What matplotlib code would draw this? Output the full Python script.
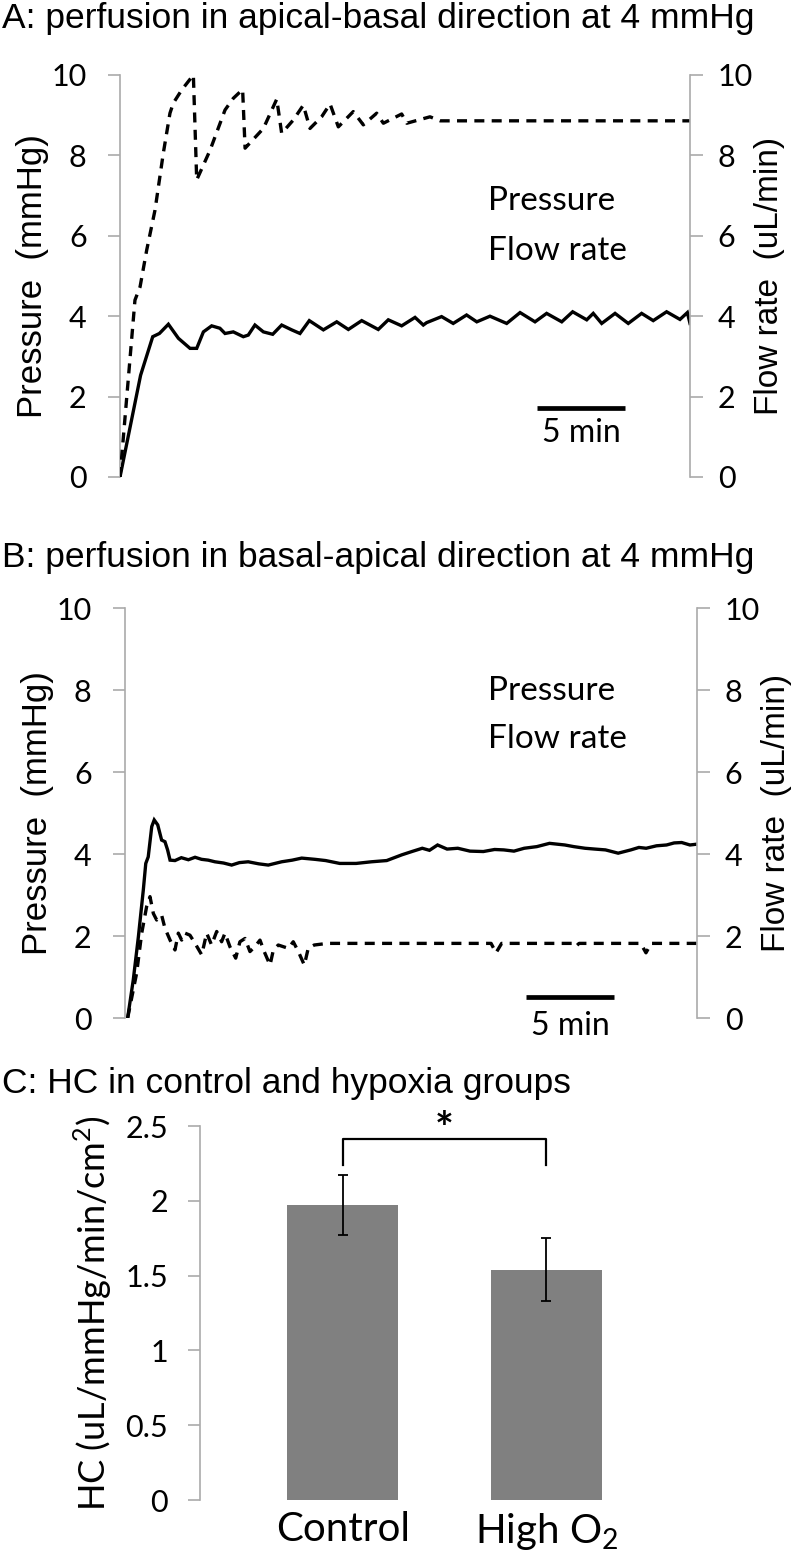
import numpy as np
import matplotlib.pyplot as plt

plt.rcParams['font.family'] = ['Lato', 'DejaVu Sans']
plt.rcParams['mathtext.fontset'] = 'custom'
plt.rcParams['mathtext.rm'] = 'Lato'

# ---- panel A: apical-basal (time in min) ----
a_p_t = [0, 1.17, 1.86, 2.24, 2.75, 3.32, 3.98, 4.36, 4.74, 5.21, 5.68, 5.97, 6.44, 7.01,
         7.29, 7.67, 8.15, 8.68, 9.19, 9.76, 10.23, 10.76, 11.56, 12.32, 12.98, 13.74,
         14.68, 15.25, 16.01, 16.77, 17.24, 17.43, 18.28, 18.94, 19.70, 20.28, 21.03,
         21.98, 22.74, 23.59, 24.25, 25.11, 25.73, 26.53, 26.90, 27.38, 28.14, 28.89,
         29.65, 30.31, 31.07, 31.83, 32.25, 32.40]
a_p = [0, 2.53, 3.49, 3.57, 3.80, 3.45, 3.20, 3.20, 3.61, 3.76, 3.70, 3.57, 3.61, 3.49,
       3.53, 3.78, 3.61, 3.55, 3.78, 3.66, 3.57, 3.89, 3.66, 3.86, 3.67, 3.89, 3.67, 3.91,
       3.76, 3.97, 3.78, 3.84, 3.99, 3.82, 4.03, 3.86, 4.00, 3.82, 4.09, 3.86, 4.07, 3.86,
       4.11, 3.91, 4.07, 3.82, 4.07, 3.82, 4.07, 3.89, 4.11, 3.92, 4.09, 3.82]
a_f_t = [0, 0.85, 1.14, 1.52, 1.99, 2.46, 2.84, 3.03, 3.51, 4.17, 4.36, 5.12, 5.97, 6.44,
         6.97, 7.11, 8.15, 8.91, 9.19, 9.85, 10.42, 10.80, 11.46, 11.94, 12.41, 13.26,
         13.83, 14.59, 14.97, 16.01, 16.30, 17.62, 18.2, 32.4]
a_f = [0, 4.40, 4.73, 5.65, 6.64, 8.05, 9.05, 9.30, 9.63, 10.0, 7.39, 8.13, 9.13, 9.42,
       9.64, 8.18, 8.67, 9.40, 8.55, 8.88, 9.25, 8.67, 8.96, 9.28, 8.71, 9.09, 8.76, 9.05,
       8.80, 9.03, 8.80, 8.96, 8.86, 8.86]

# ---- panel B: basal-apical ----
b_p_t = [0.15, 0.47, 0.76, 1.04, 1.18, 1.32, 1.52, 1.66, 1.86, 2.08, 2.27, 2.42, 2.56,
         2.84, 3.20, 3.60, 3.98, 4.35, 4.73, 5.11, 5.60, 6.06, 6.50, 7.00, 7.60, 8.14,
         8.90, 9.50, 10.04, 10.79, 11.40, 12.2, 13.13, 14.0, 14.87, 15.73, 16.3, 16.89,
         17.3, 17.76, 18.3, 18.91, 19.6, 20.36, 21.0, 21.52, 22.1, 22.68, 23.4, 24.12,
         24.99, 25.5, 26.14, 26.7, 27.30, 28.02, 28.74, 29.2, 29.61, 30.2, 30.77, 31.2,
         31.63, 32.1, 32.50]
b_p = [0, 0.93, 1.98, 3.12, 3.77, 3.93, 4.67, 4.83, 4.71, 4.34, 4.30, 4.10, 3.85, 3.84,
       3.91, 3.86, 3.92, 3.87, 3.85, 3.81, 3.78, 3.73, 3.79, 3.81, 3.76, 3.73, 3.81, 3.85,
       3.90, 3.87, 3.84, 3.77, 3.77, 3.81, 3.84, 3.98, 4.06, 4.14, 4.09, 4.22, 4.12, 4.14,
       4.07, 4.06, 4.11, 4.10, 4.07, 4.14, 4.18, 4.26, 4.22, 4.18, 4.14, 4.12, 4.10, 4.02,
       4.10, 4.16, 4.14, 4.20, 4.22, 4.27, 4.28, 4.22, 4.24]
b_f_t = [0.15, 0.66, 0.95, 1.23, 1.42, 1.61, 1.80, 2.08, 2.27, 2.56, 2.84, 3.03, 3.22,
         3.41, 3.69, 3.98, 4.36, 4.64, 4.92, 5.21, 5.49, 5.68, 5.96, 6.29, 6.53, 6.82,
         7.10, 7.38, 7.67, 7.91, 8.24, 8.43, 8.71, 8.99, 9.28, 9.56, 9.85, 10.19, 10.41,
         10.75, 11.5, 20.8, 21.08, 21.4, 25.4, 25.6, 25.8, 29.3, 29.6, 29.9, 32.5]
b_f = [0, 1.09, 2.07, 2.72, 2.96, 2.55, 2.39, 2.51, 2.19, 1.90, 1.66, 2.07, 1.90, 2.07,
       2.02, 1.82, 1.54, 2.07, 1.78, 2.11, 1.86, 2.07, 1.74, 1.46, 1.86, 1.94, 1.62, 1.74,
       1.90, 1.62, 1.29, 1.66, 1.78, 1.74, 1.70, 1.86, 1.62, 1.29, 1.70, 1.78, 1.82, 1.82,
       1.59, 1.82, 1.82, 1.74, 1.82, 1.82, 1.59, 1.82, 1.82]

# ---- panel C: hydraulic conductance ----
groups = ['Control', r'High O$_\mathregular{2}$']
hc = [1.97, 1.54]
hc_err = [0.20, 0.21]

SPINE = '#aaaaaa'
TITLE_FONT = 'Liberation Sans'

fig = plt.figure(figsize=(7.97, 15.56), dpi=100)


def trace_panel(rect, t_p, p, t_f, f, xmax, leg_x, leg_y, bar, title, title_y):
    ax = fig.add_axes(rect)
    ax2 = ax.twinx()
    ax.plot(t_p, p, color='black', lw=2.4, solid_joinstyle='miter')
    ax2.plot(t_f, f, color='black', lw=2.4, dashes=(3, 2.2))
    for a in (ax, ax2):
        a.set_xlim(0, xmax)
        a.set_ylim(0, 10)
        a.set_yticks([0, 2, 4, 6, 8, 10])
        a.set_xticks([])
        for s in ('top', 'bottom'):
            a.spines[s].set_visible(False)
        a.tick_params(axis='y', colors=SPINE, labelcolor='black', length=9, width=1.2,
                      labelsize=22)
    ax.spines['right'].set_visible(False)
    ax.spines['left'].set_color(SPINE)
    ax.spines['left'].set_linewidth(1.2)
    ax2.spines['left'].set_visible(False)
    ax2.spines['right'].set_color(SPINE)
    ax2.spines['right'].set_linewidth(1.2)
    ax.tick_params(axis='y', pad=15)
    ax2.tick_params(axis='y', pad=11)
    ax.set_ylabel('Pressure  (mmHg)', fontsize=25, family=TITLE_FONT, labelpad=2)
    ax2.set_ylabel('Flow rate  (uL/min)', fontsize=24, family=TITLE_FONT, labelpad=1)
    ax.text(leg_x, leg_y[0], 'Pressure', transform=ax.transAxes, fontsize=24,
            va='baseline')
    ax.text(leg_x, leg_y[1], 'Flow rate', transform=ax.transAxes, fontsize=24,
            va='baseline')
    x0, x1, yb, yt = bar
    ax.plot([x0, x1], [yb, yb], color='black', lw=3.4, clip_on=False,
            solid_capstyle='butt')
    ax.text((x0 + x1) / 2, yt, '5 min', ha='center', va='baseline', fontsize=23,
            clip_on=False)
    fig.text(0.002, title_y, title, family=TITLE_FONT, fontsize=25.5, va='baseline')
    return ax


H = 1556.0
W = 797.0
trace_panel([120 / W, 1 - 477 / H, 570 / W, 402 / H], a_p_t, a_p, a_f_t, a_f, 32.4,
            0.646, (0.664, 0.540), (23.7, 28.7, 1.72, 0.87),
            'A: perfusion in apical-basal direction at 4 mmHg', 1 - 28 / H)
trace_panel([125 / W, 1 - 1018 / H, 572 / W, 410 / H], b_p_t, b_p, b_f_t, b_f, 32.5,
            0.635, (0.776, 0.659), (22.8, 27.8, 0.51, -0.42),
            'B: perfusion in basal-apical direction at 4 mmHg', 1 - 567 / H)

# ---- panel C ----
axc = fig.add_axes([200 / W, 1 - 1500 / H, 489 / W, 374 / H])
xpos = np.arange(len(groups))
axc.bar(xpos, hc, width=0.545, color='#808080')
axc.errorbar(xpos, hc, yerr=hc_err, fmt='none', ecolor='black', elinewidth=1.3,
             capsize=3.6, capthick=1.3)
axc.plot([0, 0, 1, 1], [2.24, 2.41, 2.41, 2.24], color='black', lw=1.6)
axc.text(0.5, 2.47, '*', ha='center', va='center', fontsize=32, weight='bold')
axc.set_xlim(-0.70, 1.70)
axc.set_ylim(0, 2.5)
axc.set_yticks([0, 0.5, 1, 1.5, 2, 2.5])
axc.set_yticklabels(['0', '0.5', '1', '1.5', '2', '2.5'])
axc.set_xticks(xpos)
axc.set_xticklabels(groups, fontsize=29)
axc.tick_params(axis='x', length=0, pad=8)
axc.tick_params(axis='y', colors=SPINE, labelcolor='black', length=9, width=1.2,
                labelsize=22, pad=14)
for s in ('top', 'right', 'bottom'):
    axc.spines[s].set_visible(False)
axc.spines['left'].set_color(SPINE)
axc.spines['left'].set_linewidth(1.2)
axc.set_ylabel(r'HC (uL/mmHg/min/cm$^\mathregular{2}$)', fontsize=26, labelpad=8)
fig.text(0.002, 1 - 1093 / H, 'C: HC in control and hypoxia groups', family=TITLE_FONT,
         fontsize=25.5, va='baseline')

fig.savefig('out.png', dpi=100)
